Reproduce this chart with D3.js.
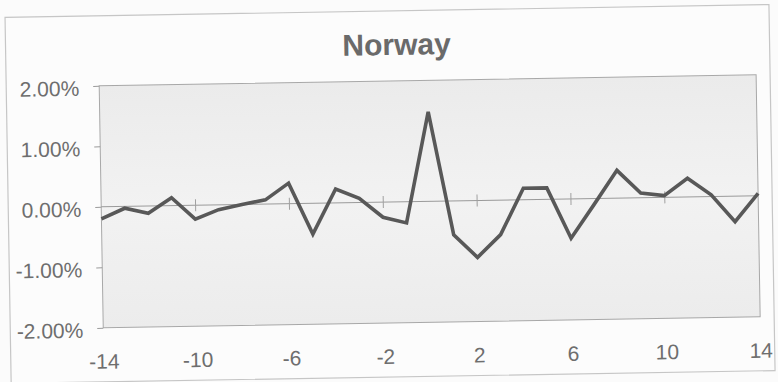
<!DOCTYPE html>
<html>
<head>
<meta charset="utf-8">
<script src="https://cdn.jsdelivr.net/npm/d3@7"></script>
<style>
  html, body { margin: 0; padding: 0; background: #fbfbfb; }
  svg { display: block; }
  text { font-family: "Liberation Sans", Arial, sans-serif; }
</style>
</head>
<body>
<svg id="chart" width="778" height="382"></svg>
<script>
// Event-time offsets (days) and the matching abnormal returns for Norway
const days = [-14, -13, -12, -11, -10, -9, -8, -7, -6, -5, -4, -3, -2, -1, 0,
              1, 2, 3, 4, 5, 6, 7, 8, 9, 10, 11, 12, 13, 14];
const returns = [-0.0020, -0.0003, -0.0012, 0.0013, -0.0023, -0.0008, 0.0000, 0.0007, 0.0034, -0.0051,
                 0.0023, 0.0007, -0.0025, -0.0035, 0.0148, -0.0056, -0.0094, -0.0057, 0.0019, 0.0019,
                 -0.0065, -0.0010, 0.0046, 0.0008, 0.0003, 0.0031, 0.0003, -0.0042, 0.0004];
const xTicks = [-14, -10, -6, -2, 2, 6, 10, 14];
const yTicks = [0.02, 0.01, 0, -0.01, -0.02];
const title = "Norway";

const svg = d3.select("#chart");
const W = 778, H = 382;

const plot = { left: 101, right: 758, top: 81, bottom: 323 };

const x = d3.scaleLinear().domain([-14, 14]).range([plot.left, plot.right]);
const y = d3.scaleLinear().domain([-0.02, 0.02]).range([plot.bottom, plot.top]);

// plain hyphen-minus, as in spreadsheet number formats
const pct = d => d3.format(".2%")(d).replace("\u2212", "-");
const int = d => String(d);

svg.append("rect").attr("width", W).attr("height", H).attr("fill", "#fbfbfb");

// The whole chart sits slightly tilted on the page
const g = svg.append("g").attr("transform", "rotate(-0.96, 389, 191)");

const defs = svg.append("defs");
const grad = defs.append("linearGradient").attr("id", "plotFill")
  .attr("x1", 0).attr("y1", 0).attr("x2", 0).attr("y2", 1);
grad.append("stop").attr("offset", "0%").attr("stop-color", "#ebebeb");
grad.append("stop").attr("offset", "50%").attr("stop-color", "#f2f2f2");
grad.append("stop").attr("offset", "100%").attr("stop-color", "#ececec");

// outer chart frame
g.append("rect")
  .attr("x", 8).attr("y", 11).attr("width", 764).attr("height", 366)
  .attr("fill", "#fcfcfc").attr("stroke", "#c6c6c6").attr("stroke-width", 1.2);

// plot area
g.append("rect")
  .attr("x", plot.left).attr("y", plot.top)
  .attr("width", plot.right - plot.left).attr("height", plot.bottom - plot.top)
  .attr("fill", "url(#plotFill)").attr("stroke", "#a8a8a8").attr("stroke-width", 1);

// title
g.append("text")
  .attr("x", 399).attr("y", 55)
  .attr("text-anchor", "middle")
  .attr("font-size", 30).attr("font-weight", "bold")
  .attr("fill", "#6a6a6a")
  .text(title);

// value axis
const yAxis = d3.axisLeft(y).tickValues(yTicks).tickFormat(pct)
  .tickSize(6).tickPadding(14);
const yg = g.append("g").attr("transform", `translate(${plot.left},0)`).call(yAxis);
yg.select(".domain").remove();
yg.selectAll(".tick line").attr("stroke", "#9a9a9a");
yg.selectAll(".tick text")
  .attr("font-size", 21).attr("fill", "#6e6e6e")
  .attr("font-family", "'Liberation Sans', Arial, sans-serif")
  .attr("dy", "0.43em");

// category labels along the bottom
const xAxis = d3.axisBottom(x).tickValues(xTicks).tickFormat(int)
  .tickSize(0).tickPadding(26);
const xg = g.append("g").attr("transform", `translate(0,${plot.bottom})`).call(xAxis);
xg.select(".domain").remove();
xg.selectAll(".tick text")
  .attr("font-size", 21).attr("fill", "#6e6e6e")
  .attr("font-family", "'Liberation Sans', Arial, sans-serif");

// zero line with cross tick marks
g.append("line")
  .attr("x1", plot.left).attr("x2", plot.right)
  .attr("y1", y(0)).attr("y2", y(0))
  .attr("stroke", "#9a9a9a").attr("stroke-width", 1);
const zAxis = d3.axisBottom(x).tickValues(xTicks.slice(1, -1)).tickFormat("").tickSize(12);
const zg = g.append("g").attr("transform", `translate(0,${y(0) - 6})`).call(zAxis);
zg.select(".domain").remove();
zg.selectAll(".tick line").attr("stroke", "#a0a0a0");

// return series
const line = d3.line().x((d, i) => x(days[i])).y(d => y(d));
g.append("path")
  .datum(returns)
  .attr("d", line)
  .attr("fill", "none")
  .attr("stroke", "#585858")
  .attr("stroke-width", 3.6)
  .attr("stroke-linejoin", "miter");
</script>
</body>
</html>
